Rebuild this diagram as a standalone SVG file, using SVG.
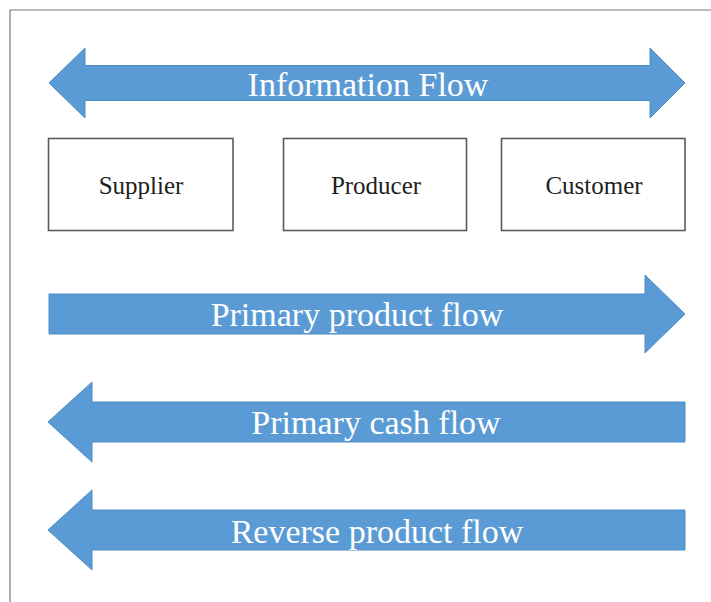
<svg xmlns="http://www.w3.org/2000/svg" width="711" height="602" viewBox="0 0 711 602">
  <style>
    .frame { fill: none; stroke: #7a7a7a; stroke-width: 1.2; }
    .box { fill: #ffffff; stroke: #5a5a5a; stroke-width: 1.6; }
    .box-label { font-family: "Liberation Serif", "Times New Roman", serif; font-size: 25px; fill: #1e1e1e; text-anchor: middle; }
    .flow { fill: #5b9bd5; stroke: #4f8cc6; stroke-width: 1; stroke-linejoin: miter; }
    .flow-label { font-family: "Liberation Serif", "Times New Roman", serif; font-size: 34px; fill: #ffffff; text-anchor: middle; }
  </style>

  <rect x="0" y="0" width="711" height="602" fill="#ffffff"/>
  <!-- page frame: top and left rules only -->
  <path class="frame" d="M10,602 V10 H711"/>

  <!-- nodes -->
  <g id="supplier">
    <rect class="box" x="48.5" y="138.5" width="184.5" height="92"/>
    <text class="box-label" x="141" y="194">Supplier</text>
  </g>
  <g id="producer">
    <rect class="box" x="283.5" y="138.5" width="183" height="92"/>
    <text class="box-label" x="376" y="194">Producer</text>
  </g>
  <g id="customer">
    <rect class="box" x="501.5" y="138.5" width="183.5" height="92"/>
    <text class="box-label" x="594" y="194">Customer</text>
  </g>

  <!-- flow arrows -->
  <g id="connectors">
    <g id="information-flow">
      <path class="flow" d="M49,83 L85,48 L85,65.5 L650,65.5 L650,48 L685,83 L650,118 L650,100.5 L85,100.5 L85,118 Z"/>
      <text class="flow-label" x="368" y="96">Information Flow</text>
    </g>
    <g id="primary-product-flow">
      <path class="flow" d="M49,294 L645,294 L645,275 L685,314 L645,353 L645,334 L49,334 Z"/>
      <text class="flow-label" x="357" y="326">Primary product flow</text>
    </g>
    <g id="primary-cash-flow">
      <path class="flow" d="M685,402 L92,402 L92,382 L48,422 L92,462 L92,442 L685,442 Z"/>
      <text class="flow-label" x="376" y="434">Primary cash flow</text>
    </g>
    <g id="reverse-product-flow">
      <path class="flow" d="M685,510 L92,510 L92,490 L48,530 L92,570 L92,550 L685,550 Z"/>
      <text class="flow-label" x="377" y="543">Reverse product flow</text>
    </g>
  </g>
</svg>
